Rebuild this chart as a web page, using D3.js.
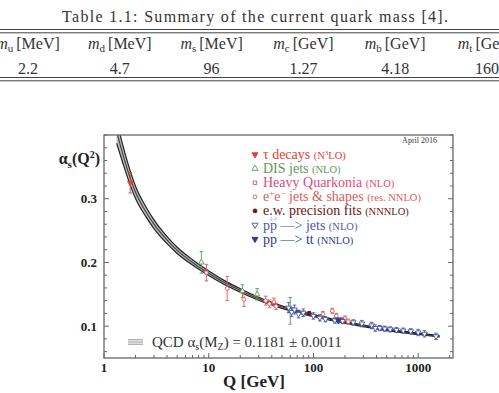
<!DOCTYPE html>
<html>
<head>
<meta charset="utf-8">
<script src="https://cdn.jsdelivr.net/npm/d3@7"></script>
<style>
  body { margin: 0; background: #fff; }
  svg { display: block; }
  svg text { font-family: "Liberation Serif", "DejaVu Serif", serif; }
</style>
</head>
<body>
<div id="chart"></div>
<script>
(function(){

    const W = 499, H = 393;

    // ---- table data ----
    const massNames = ["u", "d", "s", "c", "b", "t"];
    const massUnits = ["MeV", "MeV", "MeV", "GeV", "GeV", "GeV"];
    const massValues = ["2.2", "4.7", "96", "1.27", "4.18", "160"];

    // ---- running coupling band ----
    const curveQ   = [1.32, 1.5, 1.8, 2, 2.5, 3, 4, 5, 7, 10, 15, 20, 30, 50, 91.2, 150, 250, 400, 700, 1000, 1600];
    const curveAs  = [0.405, 0.372, 0.330, 0.310, 0.280, 0.260, 0.235, 0.219, 0.200, 0.183, 0.166, 0.156, 0.143, 0.130, 0.118, 0.110, 0.103, 0.097, 0.091, 0.088, 0.084];
    const curveErr = [0.018, 0.014, 0.011, 0.0095, 0.0078, 0.0068, 0.0056, 0.0049, 0.0042, 0.0036, 0.0031, 0.0028, 0.0024, 0.0020, 0.0017, 0.0015, 0.0014, 0.0013, 0.0012, 0.0011, 0.0011];

    // ---- measurements [Q, alpha_s, error] ----
    const tauData = [[1.78, 0.325, 0.016]];
    const disData = [[8.5, 0.200, 0.017], [21, 0.155, 0.010], [29, 0.150, 0.009], [60, 0.124, 0.021]];
    const hqData  = [[9.5, 0.184, 0.013]];
    const eeData  = [[15, 0.159, 0.019], [21.7, 0.142, 0.011], [35, 0.140, 0.007], [38, 0.135, 0.006],
                     [42, 0.138, 0.006], [44, 0.131, 0.005], [123, 0.119, 0.004], [151, 0.124, 0.004],
                     [165, 0.116, 0.004], [185, 0.110, 0.004], [200, 0.112, 0.004], [215, 0.107, 0.004]];
    const ewData  = [[91.2, 0.120, 0.003]];
    const ppJetData = [[58, 0.129, 0.008], [62, 0.122, 0.007], [66, 0.126, 0.007], [72, 0.119, 0.006],
                       [80, 0.121, 0.006], [100, 0.116, 0.005], [115, 0.113, 0.005],
                       [130, 0.111, 0.004], [160, 0.109, 0.004], [190, 0.108, 0.004],
                       [240, 0.106, 0.004], [290, 0.104, 0.005], [360, 0.101, 0.005], [390, 0.097, 0.005],
                       [430, 0.097, 0.004], [480, 0.096, 0.004], [540, 0.095, 0.004],
                       [620, 0.094, 0.004], [720, 0.093, 0.004], [850, 0.092, 0.004],
                       [1000, 0.090, 0.005], [1150, 0.088, 0.005], [1480, 0.084, 0.005]];
    const ttData = [[173, 0.109, 0.004]];

    const yMajor = [0.1, 0.2, 0.3];
    const xMajor = [1, 10, 100, 1000];

    let svg = d3.select("#chart")
        .append("svg")
        .attr("width", W)
        .attr("height", H);

    // ================= table =================
    svg.append("text")
        .attr("x", 62).attr("y", 22)
        .attr("textLength", 386).attr("lengthAdjust", "spacing")
        .style("font-size", "16px").style("fill", "#333")
        .text("Table 1.1: Summary of the current quark mass [4].");

    [29.5, 32.8, 77.5, 80.8].forEach(function(y){
        svg.append("line")
            .attr("x1", 0).attr("x2", W).attr("y1", y).attr("y2", y)
            .style("stroke", "#444").style("stroke-width", 1);
    });

    let col = d3.scalePoint().domain(massNames).range([28, 487]);

    massNames.forEach(function(n, i){
        let t = svg.append("text")
            .attr("x", col(n)).attr("y", 49)
            .attr("text-anchor", "middle")
            .style("font-size", "16px").style("fill", "#333");
        t.append("tspan").style("font-style", "italic").text("m");
        t.append("tspan").attr("dy", 3).style("font-size", "11px").text(n);
        t.append("tspan").attr("dy", -3).attr("dx", 3).text("[" + massUnits[i] + "]");

        svg.append("text")
            .attr("x", col(n)).attr("y", 73.5)
            .attr("text-anchor", "middle")
            .style("font-size", "16px").style("fill", "#333")
            .text(massValues[i]);
    });

    // ================= plot =================
    const left = 104, right = 453, top = 135, bottom = 358;

    let x = d3.scaleLog().domain([1, 2150]).range([left, right]);
    let y = d3.scaleLinear().domain([0.05, 0.40]).range([bottom, top]);

    let plot = svg.append("g");

    svg.append("clipPath").attr("id", "clip")
        .append("rect").attr("x", left).attr("y", top).attr("width", right - left).attr("height", bottom - top);

    // band
    let band = curveQ.map(function(q, i){ return {q: q, a: curveAs[i], e: curveErr[i]}; });
    let bandG = plot.append("g").attr("clip-path", "url(#clip)");
    bandG.append("path")
        .datum(band)
        .attr("d", d3.area().curve(d3.curveMonotoneX)
            .x(function(d){ return x(d.q); })
            .y0(function(d){ return y(d.a - d.e); })
            .y1(function(d){ return y(d.a + d.e); }))
        .style("fill", "#bdbdbd");
    [-1, 0, 1].forEach(function(s){
        bandG.append("path")
            .datum(band)
            .attr("d", d3.line().curve(d3.curveMonotoneX)
                .x(function(d){ return x(d.q); })
                .y(function(d){ return y(d.a + s * d.e); }))
            .style("fill", "none")
            .style("stroke", s === 0 ? "#444" : "#222")
            .style("stroke-width", 1.2);
    });

    // frame
    plot.append("rect")
        .attr("x", left).attr("y", top).attr("width", right - left).attr("height", bottom - top)
        .style("fill", "none").style("stroke", "#666").style("stroke-width", 1.3);

    // y ticks (left and right)
    let yTicks = d3.range(0.06, 0.401, 0.02);
    yTicks.forEach(function(v){
        let major = yMajor.some(function(m){ return Math.abs(m - v) < 1e-6; });
        let len = major ? 5 : 3;
        plot.append("line").attr("x1", left).attr("x2", left + len).attr("y1", y(v)).attr("y2", y(v))
            .style("stroke", "#666").style("stroke-width", 1);
        plot.append("line").attr("x1", right).attr("x2", right - len).attr("y1", y(v)).attr("y2", y(v))
            .style("stroke", "#666").style("stroke-width", 1);
    });
    yMajor.forEach(function(v){
        plot.append("text")
            .attr("x", 97).attr("y", y(v) + 4.5)
            .attr("text-anchor", "end")
            .style("font-weight", "bold").style("font-size", "13px").style("fill", "#222")
            .text(d3.format(".1f")(v));
    });

    // x ticks
    let xTicks = [];
    [1, 10, 100, 1000].forEach(function(dec){
        for (let k = 1; k <= 9; k++) { if (dec * k <= 2150) xTicks.push(dec * k); }
    });
    xTicks.forEach(function(v){
        let major = xMajor.indexOf(v) >= 0;
        let len = major ? 5 : 3;
        plot.append("line").attr("x1", x(v)).attr("x2", x(v)).attr("y1", bottom).attr("y2", bottom - len)
            .style("stroke", "#666").style("stroke-width", 1);
    });
    xMajor.forEach(function(v){
        plot.append("text")
            .attr("x", x(v)).attr("y", 372)
            .attr("text-anchor", "middle")
            .style("font-weight", "bold").style("font-size", "13px").style("fill", "#222")
            .text(v);
    });

    // axis titles
    svg.append("text")
        .attr("x", 254).attr("y", 387)
        .attr("text-anchor", "middle")
        .style("font-weight", "bold").style("font-size", "17px").style("fill", "#222")
        .text("Q [GeV]");

    let yt = svg.append("text")
        .attr("x", 100).attr("y", 164)
        .attr("text-anchor", "end")
        .style("font-weight", "bold").style("font-size", "16px").style("fill", "#222");
    yt.append("tspan").text("\u03b1");
    yt.append("tspan").attr("dy", 4).style("font-size", "11px").text("s");
    yt.append("tspan").attr("dy", -4).text("(Q");
    yt.append("tspan").attr("dy", -6).style("font-size", "10px").text("2");
    yt.append("tspan").attr("dy", 6).text(")");

    // QCD label
    [-2.2, 0, 2.2].forEach(function(o){
        svg.append("line").attr("x1", 128).attr("x2", 143).attr("y1", 342 + o).attr("y2", 342 + o)
            .style("stroke", "#777").style("stroke-width", 0.8);
    });
    let qt = svg.append("text")
        .attr("x", 152).attr("y", 347)
        .style("font-size", "15px").style("fill", "#333");
    qt.append("tspan").text("QCD \u03b1");
    qt.append("tspan").attr("dy", 3).style("font-size", "10px").text("s");
    qt.append("tspan").attr("dy", -3).text("(M");
    qt.append("tspan").attr("dy", 3).style("font-size", "10px").text("Z");
    qt.append("tspan").attr("dy", -3).text(") = 0.1181 \u00b1 0.0011");

    svg.append("text")
        .attr("x", 437).attr("y", 143)
        .attr("text-anchor", "end")
        .style("font-size", "8px").style("fill", "#333")
        .text("April 2016");

    // ---- data series ----
    const series = [
        {data: tauData,   shape: "tri", down: true,  fill: true,  color: "#e0403c"},
        {data: disData,   shape: "tri", down: false, fill: false, color: "#5a9a5a"},
        {data: hqData,    shape: "sq",  down: false, fill: false, color: "#dc4c7c"},
        {data: eeData,    shape: "circ",down: false, fill: false, color: "#e45858"},
        {data: ewData,    shape: "circ",down: false, fill: true,  color: "#6a1414"},
        {data: ppJetData, shape: "tri", down: true,  fill: false, color: "#4a58a8"},
        {data: ttData,    shape: "tri", down: true,  fill: true,  color: "#2c3a8c"}
    ];

    function symPath(shape, size) {
        let type = shape === "tri" ? d3.symbolTriangle : (shape === "sq" ? d3.symbolSquare : d3.symbolCircle);
        return d3.symbol().type(type).size(size)();
    }

    let marks = plot.append("g");
    series.forEach(function(s){
        let g = marks.append("g");
        s.data.forEach(function(d){
            let cx = x(d[0]), cy = y(d[1]), y0 = y(d[1] - d[2]), y1 = y(d[1] + d[2]);
            g.append("line").attr("x1", cx).attr("x2", cx).attr("y1", y0).attr("y2", y1)
                .style("stroke", s.color).style("stroke-width", 0.9);
            [y0, y1].forEach(function(yy){
                g.append("line").attr("x1", cx - 1.8).attr("x2", cx + 1.8).attr("y1", yy).attr("y2", yy)
                    .style("stroke", s.color).style("stroke-width", 0.9);
            });
            g.append("path")
                .attr("d", symPath(s.shape, s.shape === "tri" ? 13 : 11))
                .attr("transform", "translate(" + cx + "," + cy + ")" + (s.down ? " rotate(180)" : ""))
                .style("fill", s.fill ? s.color : "#fff")
                .style("stroke", s.color).style("stroke-width", 0.9);
        });
    });

    // ---- legend ----
    const legendMain = ["\u03c4 decays ", "DIS jets ", "Heavy Quarkonia ", "e+e\u2212 jets & shapes ", "e.w. precision fits ", "pp \u2014> jets ", "pp \u2014> tt "];
    const legendOrder = ["(N3LO)", "(NLO)", "(NLO)", "(res. NNLO)", "(NNNLO)", "(NLO)", "(NNLO)"];

    let leg = svg.append("g");
    series.forEach(function(s, i){
        let ly = 154.5 + i * 14.1;
        leg.append("path")
            .attr("d", symPath(s.shape, s.shape === "tri" ? 16 : 12))
            .attr("transform", "translate(255," + ly + ")" + (s.down ? " rotate(180)" : ""))
            .style("fill", s.fill ? s.color : "#fff")
            .style("stroke", s.color).style("stroke-width", 0.9);

        let t = leg.append("text")
            .attr("x", 263).attr("y", ly + 4.5)
            .style("font-size", "14px").style("fill", s.color);
        if (i === 3) {
            t.append("tspan").text("e");
            t.append("tspan").attr("dy", -5).style("font-size", "9px").text("+");
            t.append("tspan").attr("dy", 5).text("e");
            t.append("tspan").attr("dy", -5).style("font-size", "9px").text("\u2212");
            t.append("tspan").attr("dy", 5).text(" jets & shapes ");
        } else {
            t.append("tspan").text(legendMain[i]);
        }
        let small = t.append("tspan").style("font-size", "10.5px");
        if (i === 0) {
            small.text("(N");
            t.append("tspan").attr("dy", -4).style("font-size", "7px").text("3");
            t.append("tspan").attr("dy", 4).style("font-size", "10.5px").text("LO)");
        } else {
            small.text(legendOrder[i]);
        }
        if (i === 5) {
            leg.append("text")
                .attr("x", 270.5).attr("y", ly - 5)
                .style("font-size", "5px").style("fill", s.color)
                .text("(\u2013)");
        }
    });

})();
</script>
</body>
</html>
